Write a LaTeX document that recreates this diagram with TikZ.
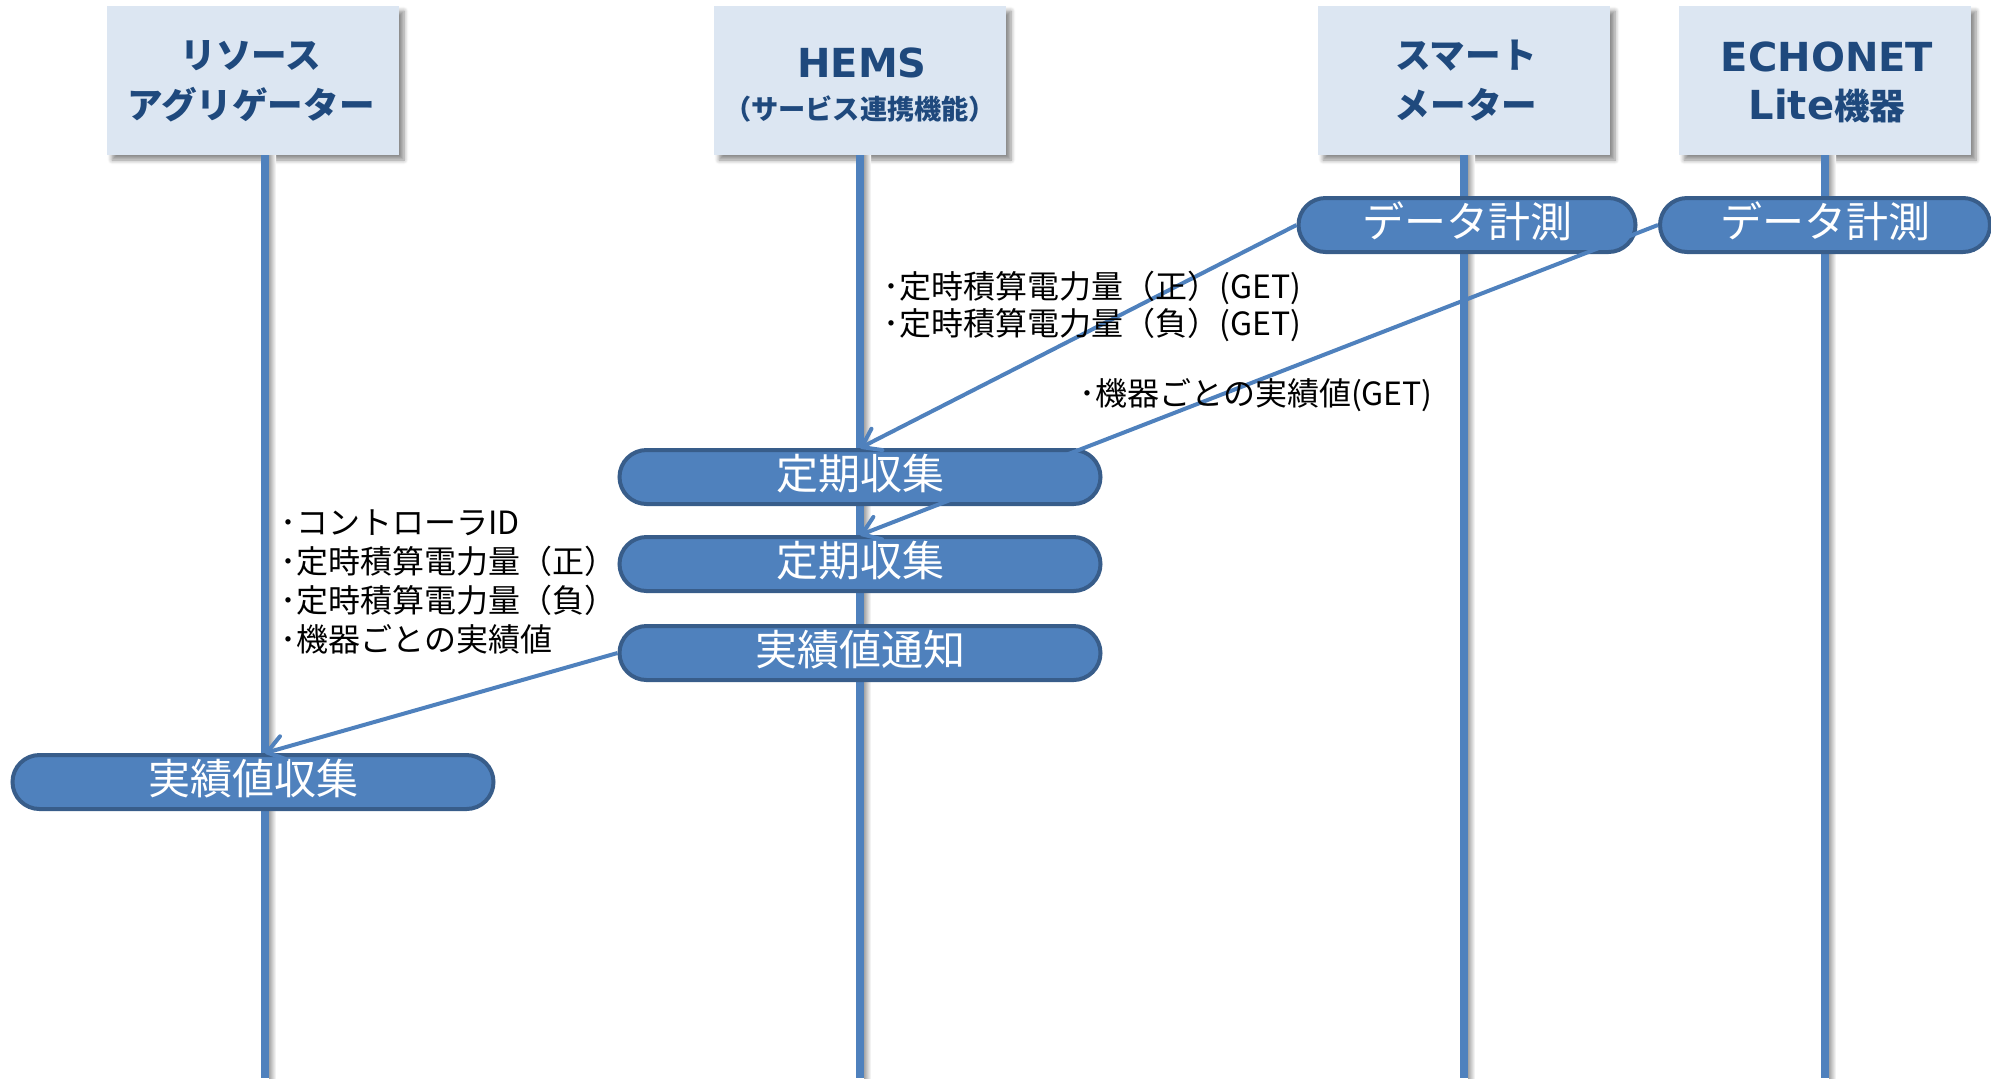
\documentclass[tikz,border=0pt]{standalone}
\usepackage{fontspec}
\setmainfont{Noto Sans CJK JP}
\newfontfamily\latb{DejaVu Sans}
\usetikzlibrary{shapes.misc,arrows.meta,shadows.blur}
\definecolor{lblue}{HTML}{4F81BD}
\definecolor{dblue}{HTML}{385D8A}
\definecolor{hfill}{HTML}{DCE6F2}
\definecolor{htext}{HTML}{1F497D}
\tikzset{
  header/.style={fill=hfill, minimum width=146pt, minimum height=74.5pt, inner sep=0pt,
    blur shadow={shadow xshift=2.5pt, shadow yshift=-2.5pt, shadow blur steps=6, shadow opacity=45}},
  htxt/.style={text=htext, font=\bfseries\fontsize{17.8}{21}\selectfont, inner sep=0pt},
  hlat/.style={text=htext, font=\latb\bfseries\fontsize{20}{24}\selectfont, inner sep=0pt},
  hsub/.style={text=htext, font=\bfseries\fontsize{13.6}{16}\selectfont, inner sep=0pt},
  lifeline/.style={draw=lblue, line width=4pt},
  lshadow/.style={left color=black!35, right color=white},
  pill/.style={rounded rectangle, draw=dblue, line width=2pt, fill=lblue, text=white,
    font=\fontsize{21}{25}\selectfont, inner sep=0pt, minimum height=27pt,
    text height=14pt, text depth=2pt},
  msg/.style={draw=lblue, line width=2pt, -{Straight Barb[length=8.5pt,width=12pt,round]}},
  lbl/.style={anchor=west, inner sep=0pt, font=\fontsize{16}{19}\selectfont, text=black},
}
\begin{document}
\begin{tikzpicture}[x=0.5pt,y=-0.5pt]
\useasboundingbox (0,0) rectangle (1991,1078);

% header boxes
\node[header] (hRA) at (253,80.5) {};
\node[header] (hHE) at (860,80.5) {};
\node[header] (hSM) at (1464,80.5) {};
\node[header] (hEL) at (1825,80.5) {};

\node[htxt] (tRA1) at (251,56) {リソース};
\node[htxt] (tRA2) at (251,105) {アグリゲーター};
\node[hlat] (tHE1) at (862,63) {HEMS};
\node[hsub] (tHE2) at (860,109) {（サービス連携機能）};
\node[htxt] (tSM1) at (1466,56) {スマート};
\node[htxt] (tSM2) at (1466,105) {メーター};
\node[hlat] (tEL1) at (1827,57) {ECHONET};
\node[htxt] (tEL2) at (1827,106) {{\latb\fontsize{20}{24}\selectfont Lite}機器};

% lifeline coordinates
\coordinate (raTop) at (265,155);  \coordinate (raBot) at (265,1078);
\coordinate (heTop) at (860,155);  \coordinate (heBot) at (860,1078);
\coordinate (smTop) at (1464,155); \coordinate (smBot) at (1464,1078);
\coordinate (elTop) at (1825,155); \coordinate (elBot) at (1825,1078);

% lifeline shadows
\shade[lshadow] (269,155) rectangle (276,1078);
\shade[lshadow] (864,155) rectangle (871,1078);
\shade[lshadow] (1468,155) rectangle (1475,1078);
\shade[lshadow] (1829,155) rectangle (1836,1078);

% lifelines
\draw[lifeline] (raTop) -- (raBot);
\draw[lifeline] (heTop) -- (heBot);
\draw[lifeline] (smTop) -- (smBot);
\draw[lifeline] (elTop) -- (elBot);

% activity pills
\node[pill, minimum width=168.5pt] (dm1) at (1467,225) {データ計測};
\node[pill, minimum width=165pt] (dm2) at (1825,225) {データ計測};
\node[pill, minimum width=240.5pt] (tk1) at (860,477) {定期収集};
\node[pill, minimum width=240.5pt] (tk2) at (860,564) {定期収集};
\node[pill, minimum width=240.5pt] (jt) at (860,653) {実績値通知};
\node[pill, minimum width=240.5pt] (js) at (253,782) {実績値収集};

% messages
\draw[msg] (dm1.west) -- (tk1.north);
\draw[msg] (dm2.west) -- (tk2.north);
\draw[msg] (jt.west) -- (js.north -| raTop);

% labels
\node[lbl] (la1) at (883,288) {･定時積算電力量（正）(GET)};
\node[lbl] (la2) at (883,325) {･定時積算電力量（負）(GET)};
\node[lbl] (lb1) at (1079,395) {･機器ごとの実績値(GET)};
\node[lbl] (lc1) at (280,523) {･コントローラID};
\node[lbl] (lc2) at (280,561) {･定時積算電力量（正）};
\node[lbl] (lc3) at (280,600) {･定時積算電力量（負）};
\node[lbl] (lc4) at (280,639) {･機器ごとの実績値};
\end{tikzpicture}
\end{document}
